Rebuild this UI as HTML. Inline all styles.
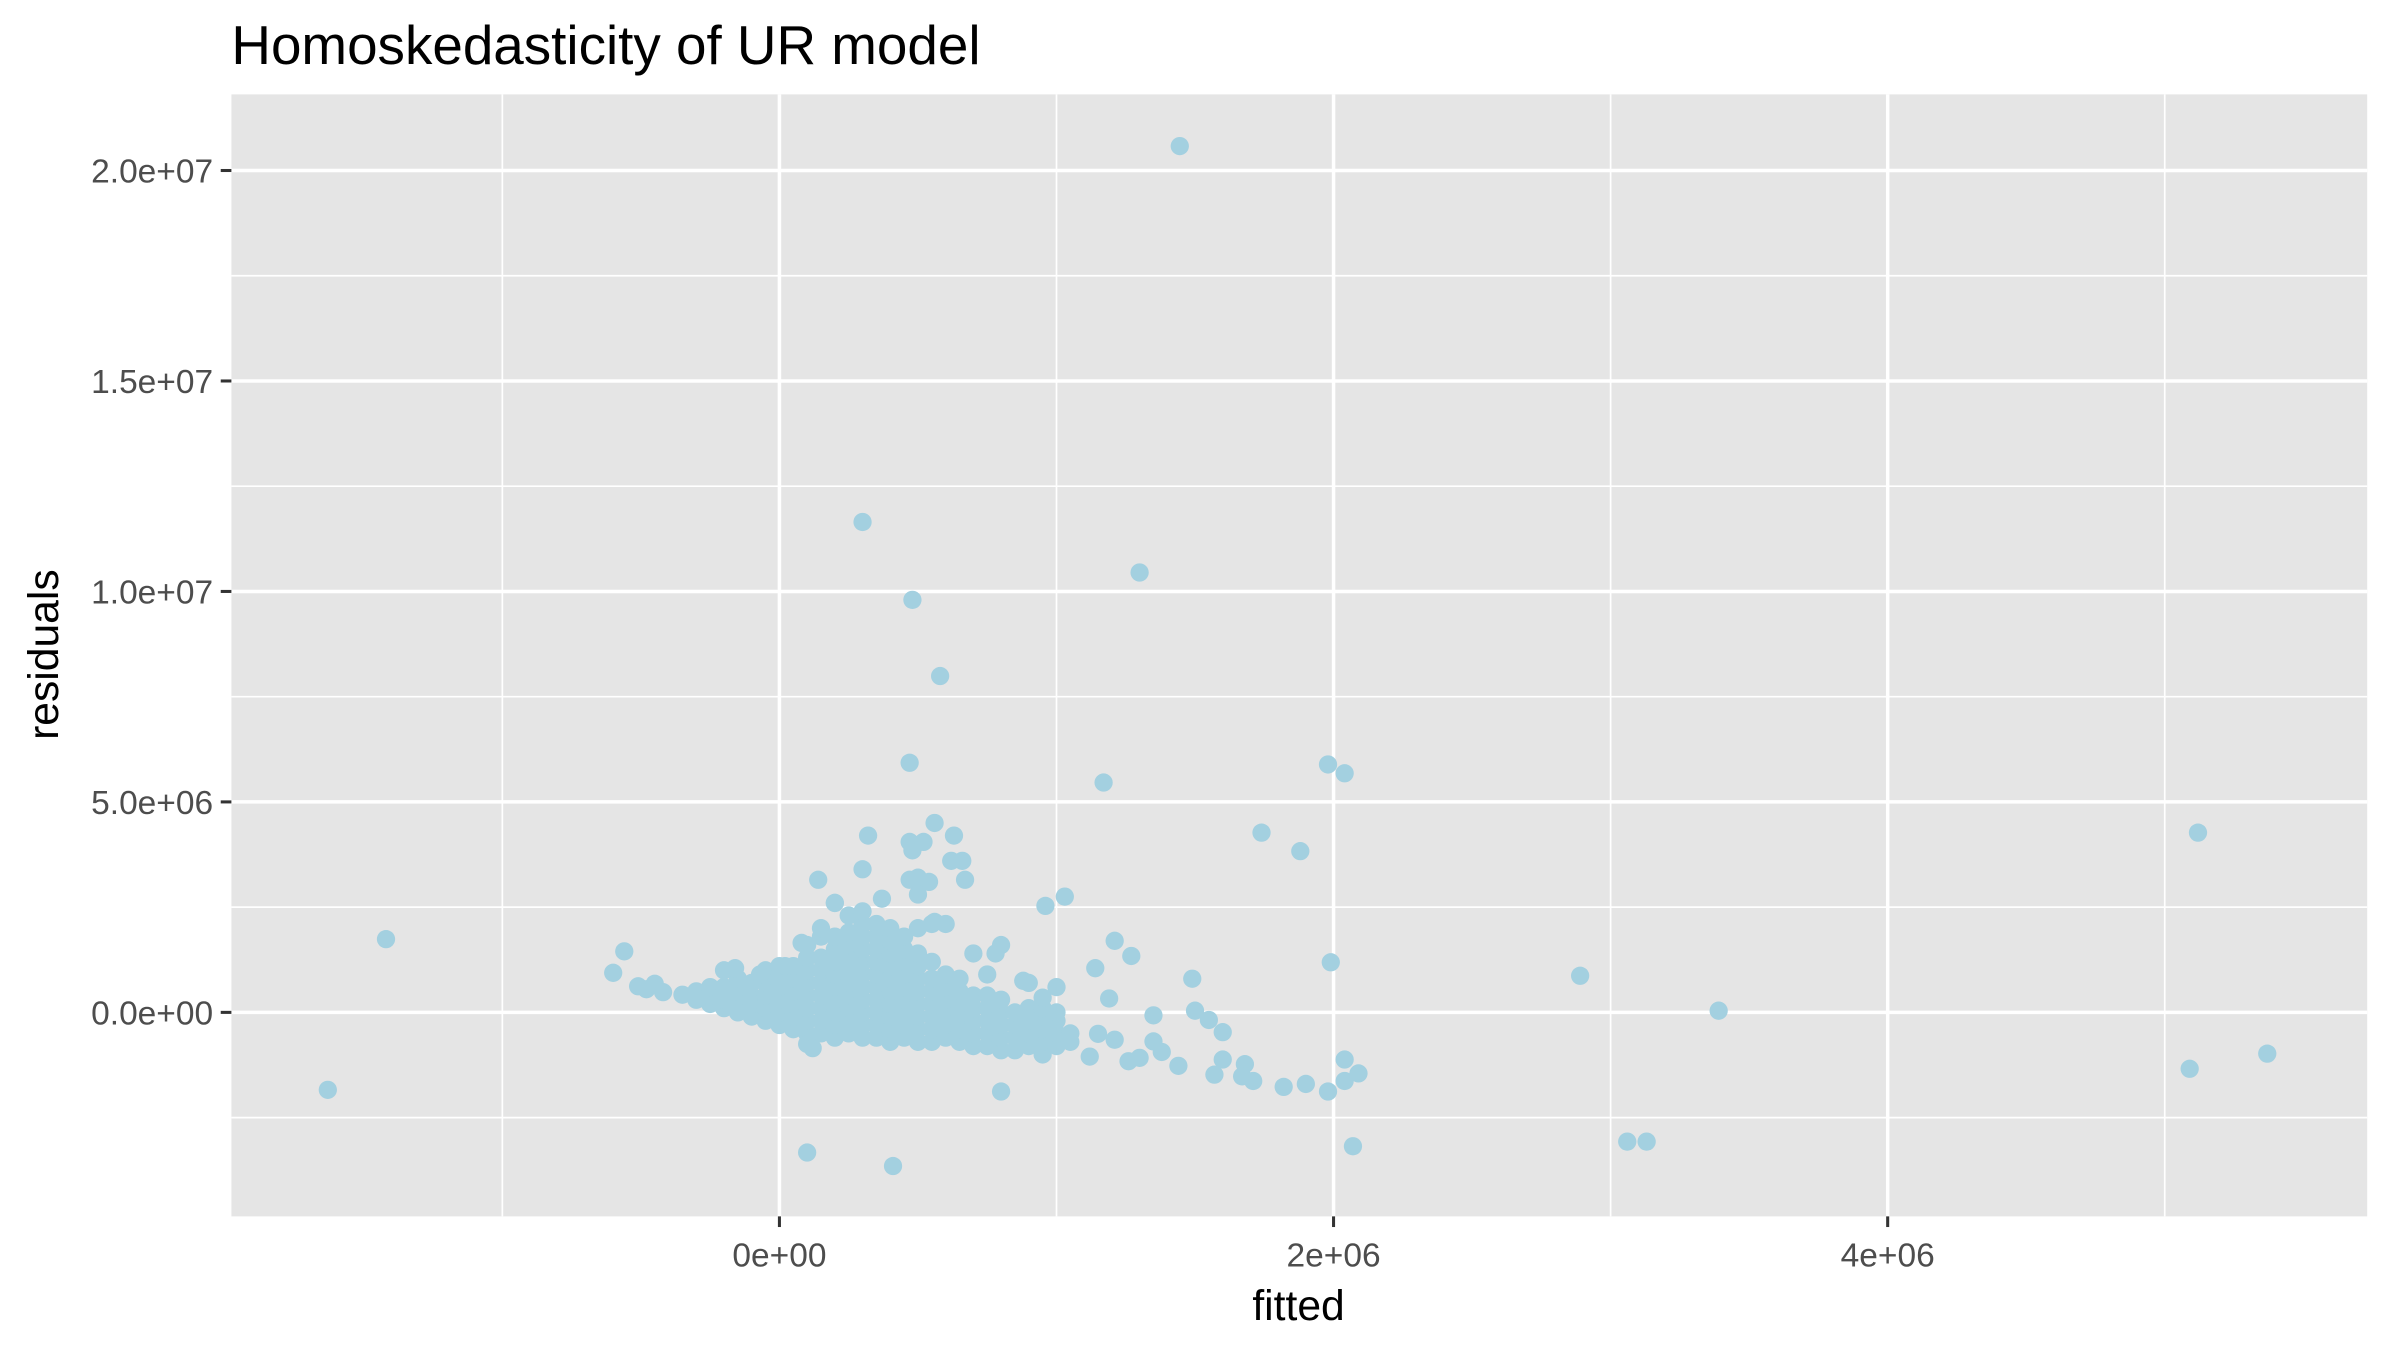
<!DOCTYPE html>
<html><head><meta charset="utf-8"><style>
html,body{margin:0;padding:0;background:#fff}
svg{display:block}
text{font-family:"Liberation Sans",Arial,sans-serif}
</style></head><body>
<svg id="chart" width="2387" height="1354" viewBox="0 0 1568 889.4" preserveAspectRatio="none">
<text x="152" y="42" font-size="36" fill="#000">Homoskedasticity of UR model</text>
<rect x="152" y="62" width="1403" height="737" fill="#e5e5e5"/>
<g id="grid"></g>
<g id="points"></g>
<g id="axes"></g>
<text x="853" y="867" font-size="28" text-anchor="middle" fill="#000">fitted</text>
<text x="0" y="0" font-size="28" text-anchor="middle" fill="#000" transform="translate(38,430) rotate(-90)">residuals</text>
</svg>
<script>
// values in millions
const xTicks = [0, 2, 4];
const xTickLabels = ["0e+00", "2e+06", "4e+06"];
const xMinor = [-1, 1, 3, 5];
const yTicks = [0, 5, 10, 15, 20];
const yTickLabels = ["0.0e+00", "5.0e+06", "1.0e+07", "1.5e+07", "2.0e+07"];
const yMinor = [-2.5, 2.5, 7.5, 12.5, 17.5];
const outlierFitted = [-1.63,-1.42,0.30,0.48,1.30,1.445,0.58,0.47,1.17,1.98,2.04,1.74,1.88,5.12,2.89,3.39,5.09,5.37,3.06,3.13,2.07,0.10,0.41,1.99,0.96,1.03,1.21,1.27,1.14,1.19,1.49,1.35,1.50,1.55,1.60,1.60,1.57,1.68,1.67,1.71,1.82,1.90,1.98,2.04,2.04,2.09,1.44,1.38,1.35,1.30,1.26,1.21,1.15,1.12,0.80];
const outlierResid = [-1.84,1.74,11.65,9.80,10.45,20.58,7.99,5.93,5.46,5.89,5.68,4.27,3.83,4.27,0.87,0.04,-1.34,-0.98,-3.07,-3.07,-3.18,-3.33,-3.65,1.19,2.53,2.75,1.70,1.34,1.05,0.33,0.80,-0.07,0.04,-0.18,-0.47,-1.12,-1.48,-1.23,-1.52,-1.63,-1.77,-1.70,-1.88,-1.12,-1.63,-1.45,-1.27,-0.94,-0.69,-1.08,-1.16,-0.65,-0.51,-1.05,-1.88];
const extraFitted = [0.10,0.12,0.30,0.32,0.47,0.48,0.52,0.56,0.63,0.62,0.66,0.67,0.47,0.50,0.54,0.37,0.14,0.20,0.50,0.56,0.60,0.78,0.88,0.95,-0.60,-0.56,-0.51,-0.48,-0.45,-0.42,-0.35,-0.30,-0.16,-0.07,0.02,0.08];
const extraResid = [-0.75,-0.85,3.40,4.20,4.05,3.85,4.05,4.50,4.20,3.60,3.60,3.15,3.15,3.20,3.10,2.70,3.15,2.60,2.80,2.15,2.10,1.40,0.75,0.35,0.94,1.45,0.62,0.55,0.68,0.48,0.42,0.35,1.05,0.90,1.10,1.65];
const clusterFitted = [-0.30,-0.25,-0.20,-0.15,-0.10,-0.05,0.00,0.05,0.10,0.15,0.20,0.25,0.30,0.35,0.40,0.45,0.50,0.55,0.60,0.65,0.70,0.75,0.80,0.85,0.90,0.95,1.00,1.05];
const clusterResid = [
 [0.3,0.5],[0.2,0.4,0.6],[0.1,0.3,0.6,1.0],[0.0,0.2,0.5,0.8],[-0.1,0.2,0.4,0.7],
 [-0.2,0.1,0.4,0.7,1.0],[-0.3,0.0,0.3,0.6,0.9,1.1],[-0.4,-0.1,0.2,0.5,0.8,1.1],
 [-0.5,-0.2,0.1,0.4,0.7,1.0,1.3,1.6],[-0.5,-0.2,0.1,0.4,0.7,1.0,1.3,1.8,2.0],
 [-0.6,-0.3,0.0,0.3,0.6,0.9,1.2,1.5,1.8,2.6],[-0.5,-0.2,0.1,0.4,0.7,1.0,1.3,1.6,1.9,2.3],
 [-0.6,-0.3,0.0,0.3,0.6,0.9,1.2,1.5,1.8,2.1,2.4],[-0.6,-0.3,0.0,0.3,0.6,0.9,1.2,1.5,1.8,2.1],
 [-0.7,-0.4,-0.1,0.2,0.5,0.8,1.1,1.4,1.7,2.0],[-0.6,-0.3,0.0,0.3,0.6,0.9,1.2,1.5,1.8],
 [-0.7,-0.4,-0.1,0.2,0.5,0.8,1.1,1.4,2.0],[-0.7,-0.4,-0.1,0.2,0.5,0.8,1.2,2.1],
 [-0.6,-0.3,0.0,0.3,0.6,0.9],[-0.7,-0.4,-0.1,0.2,0.5,0.8],[-0.8,-0.5,-0.2,0.1,0.4,1.4],
 [-0.8,-0.5,-0.2,0.1,0.4,0.9],[-0.9,-0.6,-0.3,0.0,0.3,1.6],[-0.9,-0.6,-0.3,0.0],
 [-0.8,-0.5,-0.2,0.1,0.7],[-1.0,-0.7,-0.4,-0.1,0.1],[-0.8,-0.5,-0.2,0.0,0.6],[-0.7,-0.5]
];
const NS="http://www.w3.org/2000/svg";
const X0=152,X1=1555,Y0=62,Y1=799;
function sx(v){return 512+v*182;}
function sy(v){return 665-v*27.65;}
function mk(tag,attrs,parent){const e=document.createElementNS(NS,tag);for(const k in attrs)e.setAttribute(k,attrs[k]);parent.appendChild(e);return e;}
const grid=document.getElementById('grid'),pts=document.getElementById('points'),axes=document.getElementById('axes');
xMinor.forEach(v=>{const l=mk('line',{x1:sx(v),x2:sx(v),y1:Y0,y2:Y1,stroke:'#fff','stroke-width':1.1},grid);

});
yMinor.forEach(v=>{const l=mk('line',{x1:X0,x2:X1,y1:sy(v),y2:sy(v),stroke:'#fff','stroke-width':1.1},grid);

});
xTicks.forEach((v,i)=>{const l=mk('line',{x1:sx(v),x2:sx(v),y1:Y0,y2:Y1,stroke:'#fff','stroke-width':2.3},grid);


const t=mk('line',{x1:sx(v),x2:sx(v),y1:Y1,y2:Y1+7,stroke:'#333','stroke-width':2},axes);


const tx=mk('text',{x:sx(v),y:832,'font-size':22,'text-anchor':'middle',fill:'#4d4d4d'},axes);tx.textContent=xTickLabels[i];

});
yTicks.forEach((v,i)=>{const l=mk('line',{x1:X0,x2:X1,y1:sy(v),y2:sy(v),stroke:'#fff','stroke-width':2.3},grid);


const t=mk('line',{x1:X0-7,x2:X0,y1:sy(v),y2:sy(v),stroke:'#333','stroke-width':2},axes);


const tx=mk('text',{x:X0-12,y:sy(v)+8,'font-size':22,'text-anchor':'end',fill:'#4d4d4d'},axes);tx.textContent=yTickLabels[i];

});
function dot(f,r){const c=mk('circle',{cx:sx(f),cy:sy(r),r:6,fill:'#a3d0e0'},pts);

}
clusterFitted.forEach((f,i)=>clusterResid[i].forEach(r=>dot(f,r)));
extraFitted.forEach((f,i)=>dot(f,extraResid[i]));
outlierFitted.forEach((f,i)=>dot(f,outlierResid[i]));
</script>
</body></html>
